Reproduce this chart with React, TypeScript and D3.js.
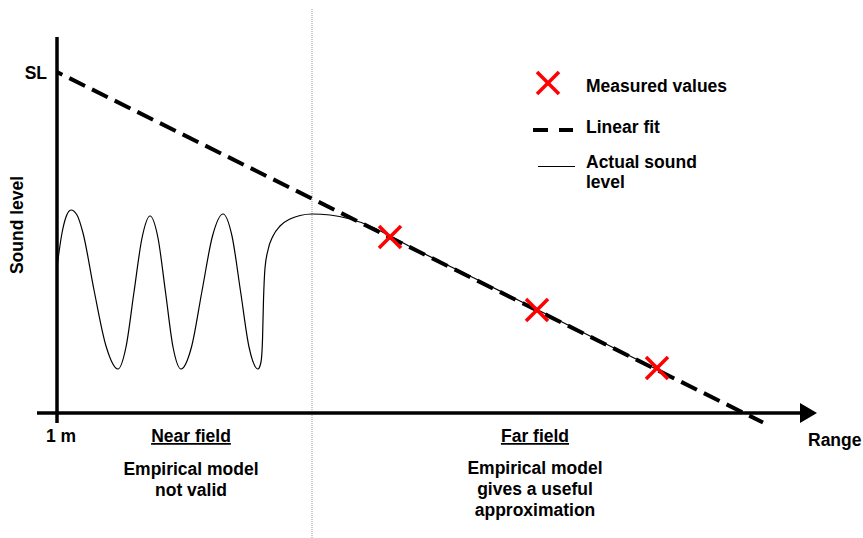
import * as d3 from "d3";

// x: range units from the 1 m mark, y: sound level units above the range axis
const actualLevel: [number, number][] = [
  [0, 146], [5, 180], [9, 196], [14, 203], [20, 198], [26, 180], [37, 123],
  [49, 67], [61, 44], [69, 66], [77, 121], [85, 175], [93, 197], [101, 175],
  [108.5, 121], [116, 66], [124, 44], [134.5, 66], [145, 122], [155.5, 177],
  [166, 199], [175, 177], [183.5, 122], [192, 66], [201, 44], [204, 51],
  [205.5, 73], [206.5, 113], [208, 145], [211, 163], [216, 177], [223, 187],
  [233, 194], [243, 197.5], [255, 199], [273, 198], [293, 194], [313, 187],
  [333, 177], [353, 166.5], [423, 132], [480, 103.5], [543, 72], [611, 38],
];
const linearFit: [number, number][] = [
  [0, 341],
  [706, -9.5],
];
const measured: [number, number][] = [
  [333, 176],
  [480, 103],
  [600, 45],
];
const fieldBoundary = 255;
const nearLines = ["Empirical model", "not valid"];
const farLines = ["Empirical model", "gives a useful", "approximation"];
const legendLabels = ["Measured values", "Linear fit", "Actual sound", "level"];

const width = 863;
const height = 538;
const font = "'Liberation Sans', Arial, sans-serif";

export default function App() {
  const x = d3.scaleLinear([0, 760], [57, 817]);
  const y = d3.scaleLinear([0, 380], [413, 33]);

  const curve = d3
    .line<[number, number]>()
    .x((d) => x(d[0]))
    .y((d) => y(d[1]))
    .curve(d3.curveMonotoneX);
  const straight = d3
    .line<[number, number]>()
    .x((d) => x(d[0]))
    .y((d) => y(d[1]));

  const cross = (cx: number, cy: number, r: number, key: string | number) => (
    <g key={key} stroke="#ff0000" strokeWidth={3.5}>
      <line x1={cx - r} y1={cy - r} x2={cx + r} y2={cy + r} />
      <line x1={cx - r} y1={cy + r} x2={cx + r} y2={cy - r} />
    </g>
  );

  const x0 = x(0);
  const yAxis = y(0);
  const xb = x(fieldBoundary);

  return (
    <svg
      width={width}
      height={height}
      style={{ position: "absolute", left: 0, top: 0, background: "#fff" }}
      fontFamily={font}
      fontWeight="bold"
      fontSize={17.5}
    >
      {/* near / far field boundary */}
      <line x1={xb} x2={xb} y1={9} y2={height} stroke="#999" strokeWidth={1} strokeDasharray="1 1" />

      {/* axes */}
      <line x1={x0} x2={x0} y1={37} y2={423} stroke="#000" strokeWidth={3.5} />
      <line x1={37} x2={801} y1={yAxis} y2={yAxis} stroke="#000" strokeWidth={3.5} />
      <path d={`M800,${yAxis - 10}L817,${yAxis}L800,${yAxis + 10}Z`} fill="#000" />

      {/* linear fit */}
      <path
        d={straight(linearFit)!}
        fill="none"
        stroke="#000"
        strokeWidth={4}
        strokeDasharray="17.5 7.8"
        strokeDashoffset={11.5}
      />

      {/* actual sound level */}
      <path d={curve(actualLevel)!} fill="none" stroke="#000" strokeWidth={1.2} />

      {measured.map((d, i) => cross(x(d[0]), y(d[1]), 11, i))}

      {/* axis labels */}
      <text x={47} y={79} textAnchor="end">SL</text>
      <text transform="translate(23,225) rotate(-90)" textAnchor="middle">Sound level</text>
      <text x={61} y={442} textAnchor="middle">1 m</text>
      <text x={808} y={446}>Range</text>

      <text x={191} y={442} textAnchor="middle" textDecoration="underline">Near field</text>
      {nearLines.map((t, i) => (
        <text key={t} x={191} y={475 + i * 21} textAnchor="middle">{t}</text>
      ))}
      <text x={535} y={442} textAnchor="middle" textDecoration="underline">Far field</text>
      {farLines.map((t, i) => (
        <text key={t} x={535} y={474 + i * 21} textAnchor="middle">{t}</text>
      ))}

      {/* legend */}
      {cross(548, 83, 11, "legend")}
      <line x1={533} x2={573} y1={130} y2={130} stroke="#000" strokeWidth={4} strokeDasharray="15 11" />
      <line x1={538} x2={575} y1={166.5} y2={166.5} stroke="#000" strokeWidth={1} />
      <text x={586} y={92}>{legendLabels[0]}</text>
      <text x={586} y={133}>{legendLabels[1]}</text>
      <text x={586} y={168}>{legendLabels[2]}</text>
      <text x={586} y={188}>{legendLabels[3]}</text>
    </svg>
  );
}
